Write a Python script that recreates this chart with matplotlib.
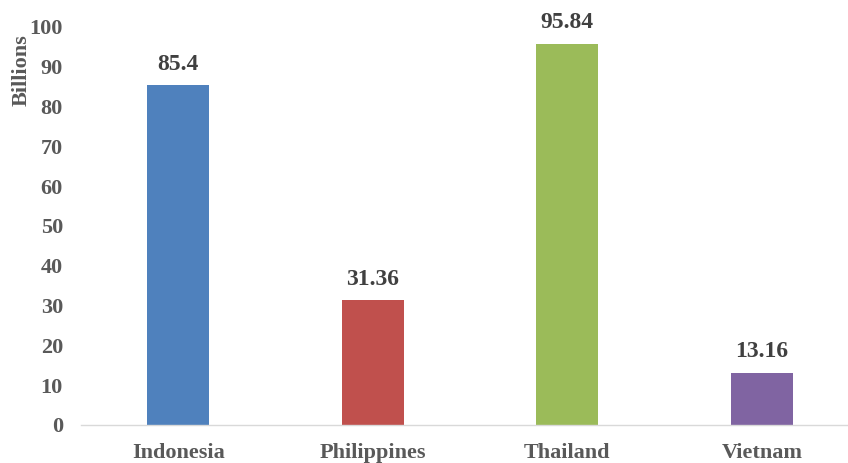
import matplotlib.pyplot as plt
import numpy as np

# donnees
countries = ['Indonesia', 'Philippines', 'Thailand', 'Vietnam']
values = [85.4, 31.36, 95.84, 13.16]
value_labels = ['85.4', '31.36', '95.84', '13.16']
colors = ['#4f81bd', '#c0504d', '#9bbb59', '#8064a2']
yticks = [0, 10, 20, 30, 40, 50, 60, 70, 80, 90, 100]

plt.rcParams['font.family'] = ['Liberation Serif', 'DejaVu Serif']
plt.rcParams['font.weight'] = 'bold'

fig = plt.figure(figsize=(8.48, 4.63), dpi=100)
ax = fig.add_axes([81/848, 1-425/463, 778/848, 398/463])

x = np.arange(len(countries))
ax.bar(x, values, width=0.32, color=colors)

for xi, v, lab in zip(x, values, value_labels):
  ax.text(xi, v + 2.6, lab, ha='center', va='bottom', fontsize=17,
          fontweight='bold', color='#404040')

ax.set_xlim(-0.5, 3.5)
ax.set_ylim(0, 100)
ax.set_xticks(x)
ax.set_xticklabels(countries, fontsize=16, fontweight='bold', color='#595959')
ax.set_yticks(yticks)
ax.set_yticklabels([str(t) for t in yticks], fontsize=16, fontweight='bold', color='#595959')
ax.tick_params(axis='both', length=0)
ax.tick_params(axis='x', pad=13)
ax.tick_params(axis='y', pad=13)

for s in ['top', 'right', 'left']:
  ax.spines[s].set_visible(False)
ax.spines['bottom'].set_color('#d9d9d9')
ax.spines['bottom'].set_linewidth(1)

ax.set_ylabel('Billions', fontsize=16, fontweight='bold', color='#595959')
ax.yaxis.set_label_coords(-0.064, 0.892)

fig.savefig('out.png', dpi=100)
